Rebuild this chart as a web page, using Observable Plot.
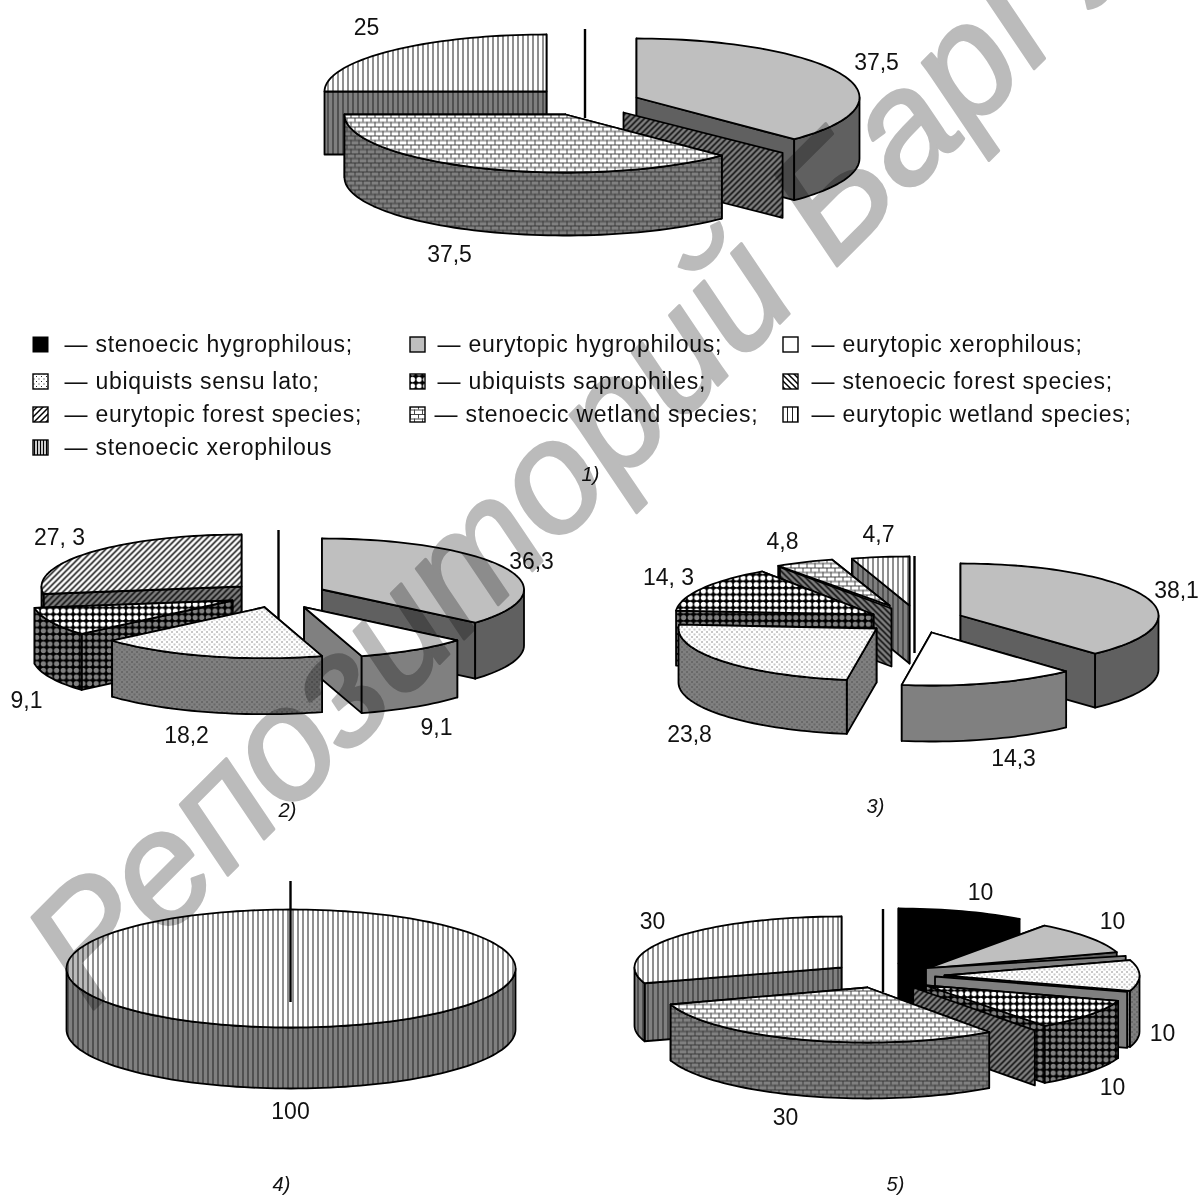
<!DOCTYPE html>
<html><head><meta charset="utf-8">
<style>html,body{margin:0;padding:0;background:#fff}svg{display:block}</style>
<script src="https://cdn.jsdelivr.net/npm/d3@7"></script>
<script src="https://cdn.jsdelivr.net/npm/@observablehq/plot@0.6"></script>
</head><body><div id="c"></div>
<script>
// ---------- data ----------
const categories = ["stenoecic hygrophilous","eurytopic hygrophilous","eurytopic xerophilous","ubiquists sensu lato","ubiquists saprophiles","stenoecic forest species","eurytopic forest species","stenoecic wetland species","eurytopic wetland species","stenoecic xerophilous"];
const pie1Values = [0,37.5,0,0,0,0,0,37.5,25,0];
const pie2Values = [0,36.3,9.1,18.2,9.1,0,27.3,0,0,0];
const pie3Values = [0,38.1,14.3,23.8,14.3,0,0,4.8,4.7,0];
const pie4Values = [0,0,0,0,0,0,0,0,100,0];
const pie5Values = [10,10,0,10,10,0,0,30,30,0];
const legendText = ["— stenoecic hygrophilous;","— eurytopic hygrophilous;","— eurytopic xerophilous;","— ubiquists sensu lato;","— ubiquists saprophiles;","— stenoecic forest species;","— eurytopic forest species;","— stenoecic wetland species;","— eurytopic wetland species;","— stenoecic xerophilous"];

// ---------- layout of each exploded slice: category index, apex, radii, depth, paint order by list position ----------
const layout1 = [
 {c:8,cx:546,cy:91,rx:222,ry:57,d:63},{c:1,cx:636,cy:97,rx:223,ry:59,d:61},
 {c:5,at:135,cx:623,cy:112,rx:225,ry:57,d:65,zero:"f6"},{c:7,cx:565,cy:114,rx:221,ry:58,d:63}];
const line1 = {x:584.5,y1:29,y2:118,after:1};
const layout2 = [
 {c:6,cx:241,cy:586,rx:200,ry:52,d:56},{c:4,cx:232,cy:600,rx:200,ry:51,d:56},
 {c:1,cx:321.5,cy:589,rx:202,ry:51,d:56},{c:2,cx:303.6,cy:606.7,rx:202,ry:51,d:57},
 {c:3,cx:264,cy:606.7,rx:202,ry:51,d:56}];
const line2 = {x:278,y1:530,y2:620,after:3};
const layout3 = [
 {c:1,cx:960,cy:615,rx:198,ry:52,d:54},{c:2,cx:931,cy:632,rx:198,ry:53,d:56},
 {c:8,cx:909,cy:605,rx:198,ry:49,d:58},{c:7,cx:889,cy:605,rx:198,ry:48,d:55},
 {c:5,at:325.7,cx:891,cy:608,rx:198,ry:50,d:58,zero:"f5"},
 {c:4,cx:873,cy:614,rx:198,ry:52,d:55},{c:3,cx:876,cy:628,rx:198,ry:52,d:54}];
const line3 = {x:914,y1:556,y2:653,after:2};
const layout4 = [{c:8,cx:290.5,cy:968,rx:224.5,ry:59,d:61}];
const line4 = {x:290,y1:881,y2:1002,after:0};
const layout5 = [
 {c:0,cx:898,cy:963,rx:206,ry:55,d:55},{c:8,cx:841,cy:967,rx:207,ry:51,d:58},
 {c:1,cx:927,cy:968,rx:199,ry:53,d:55},
 {c:2,at:72,cx:925.5,cy:967.7,rx:210,ry:40,d:55,zero:"solid"},
 {c:3,cx:944,cy:975,rx:195,ry:50,d:56},
 {c:2,at:108,cx:934.5,cy:976,rx:202,ry:50,d:56,zero:"solid"},
 {c:4,cx:925.5,cy:985,rx:202,ry:50,d:57},
 {c:6,at:144,cx:912.7,cy:987,rx:207,ry:53,d:55,zero:"f6"},
 {c:7,cx:867,cy:987,rx:207,ry:55,d:56}];
const line5 = {x:882.5,y1:909,y2:992,after:1};

const labels = [
 {t:"25",x:366,y:27},{t:"37,5",x:876,y:62},{t:"37,5",x:449,y:254},
 {t:"27, 3",x:59,y:537},{t:"36,3",x:531,y:561},{t:"9,1",x:26,y:700},{t:"18,2",x:186,y:735},{t:"9,1",x:436,y:727},
 {t:"14, 3",x:668,y:577},{t:"4,8",x:782,y:541},{t:"4,7",x:878,y:534},{t:"38,1",x:1176,y:590},{t:"23,8",x:689,y:734},{t:"14,3",x:1013,y:758},
 {t:"100",x:290,y:1111},
 {t:"10",x:980,y:892},{t:"10",x:1112,y:921},{t:"30",x:652,y:921},{t:"10",x:1162,y:1033},{t:"10",x:1112,y:1087},{t:"30",x:785,y:1117}];
const panelTitles = [{t:"1)",x:590,y:474},{t:"2)",x:287,y:810},{t:"3)",x:875,y:806},{t:"4)",x:281,y:1184},{t:"5)",x:895,y:1184}];

// ---------- fills ----------
const topFill = ["#000","#bfbfbf","#fff","url(#p3)","url(#p4)","url(#p5)","url(#p6)","url(#p7)","url(#p8)","url(#p9)"];
const wallFill = ["#000","#606060","#808080","url(#d3)","url(#d4)","url(#d5)","url(#d6)","url(#d7)","url(#d8)","url(#d9)"];
const tiles = {
 3:{w:5,h:5,s:'<rect x="1" y="1" width="1" height="1" fill="#222"/><rect x="3.5" y="3.5" width="1" height="1" fill="#222"/>'},
 4:{w:6.6,h:6.6,s:'<rect width="6.6" height="6.6" fill="#000"/><circle cx="3.3" cy="3.3" r="2.6" fill="BG"/>'},
 5:{w:6,h:6,s:'<path d="M-1 -1L7 7M-1 5L1 7M5 -1L7 1" stroke="#000" stroke-width="1.5"/>'},
 6:{w:6,h:6,s:'<path d="M-1 7L7 -1M-1 1L1 -1M5 7L7 5" stroke="#000" stroke-width="1.5"/>'},
 7:{w:8,h:9,s:'<path d="M0 .5H8M0 5H8" stroke="#333" stroke-width=".9"/><path d="M2.5 0V4.5M6.5 4.5V9" stroke="#333" stroke-width=".9"/>'},
 8:{w:5,h:5,s:'<path d="M2.5 0V5" stroke="#222" stroke-width="1"/>'},
 9:{w:3,h:3,s:'<path d="M1.5 0V3" stroke="#000" stroke-width="1.4"/>'}
};
const tile = (id,t,bg)=>`<pattern id="${id}" width="${t.w}" height="${t.h}" patternUnits="userSpaceOnUse"><rect width="${t.w}" height="${t.h}" fill="${bg}"/>${t.s.replace("BG",bg)}</pattern>`;
const defsMarkup = Object.entries(tiles).map(([k,t]) => tile("p"+k,t,"#fff")+tile("d"+k,t,"#808080")).join("");

// ---------- geometry ----------
const rad = a => a*Math.PI/180;
const pt = (s,a,dz=0) => ({x:s.cx+s.rx*Math.sin(rad(a)), y:s.cy-s.ry*Math.cos(rad(a))+dz});
const arc = (s,a0,a1,dz=0) => { const n=Math.max(2,Math.ceil(Math.abs(a1-a0)/2)); return d3.range(n+1).map(i=>pt(s,a0+(a1-a0)*i/n,dz)); };
const apex = (s,dz=0)=>({x:s.cx,y:s.cy+dz});
const closed = p => [...p,p[0]];
const SW = 1.8;
const poly = (pts,fill,sw=SW)=>Plot.line(closed(pts),{x:"x",y:"y",fill,stroke:"#000",strokeWidth:sw,curve:"linear",strokeLinejoin:"round"});

function sliceMarks(s,a0,a1){
  const c=s.c, out=[];
  const full = a1-a0>=359.9;
  if(!full){
    // the radial wall whose rim point lies further back is painted first
    const order=[a0,a1].sort((p,q)=>pt(s,p).y-pt(s,q).y);
    for(const a of order){
      out.push(poly([apex(s),pt(s,a),pt(s,a,s.d),apex(s,s.d)],wallFill[c]));
    }
  }
  const lo=Math.max(a0,90), hi=Math.min(a1,270);
  if(hi>lo){
    out.push(poly([...arc(s,lo,hi),...arc(s,lo,hi,s.d).reverse()],wallFill[c]));
  }
  out.push(poly(full ? arc(s,0,360) : [apex(s),...arc(s,a0,a1)],topFill[c]));
  return out;
}
function zeroMarks(s){
  const fill = s.zero==="solid" ? "#808080" : s.zero==="f5" ? wallFill[5] : wallFill[6];
  return [poly([apex(s),pt(s,s.at),pt(s,s.at,s.d),apex(s,s.d)],fill)];
}
function pieMarks(values,layout,line){
  const starts={}; let acc=0;
  values.forEach((v,i)=>{starts[i]=[acc/100*360,(acc+v)/100*360]; acc+=v;});
  const out=[];
  layout.forEach((s,i)=>{
    if(s.zero) out.push(...zeroMarks(s));
    else out.push(...sliceMarks(s,starts[s.c][0],starts[s.c][1]));
    if(i===line.after) out.push(Plot.ruleX([line.x],{y1:line.y1,y2:line.y2,stroke:"#000",strokeWidth:2.4}));
  });
  return out;
}

// ---------- legend ----------
const colX=[33,410,783], rowY=[344,381,414,447], textX=[64,437,811];
const legendRows = categories.map((c,i)=>({i,col:i%3,row:Math.floor(i/3),text:legendText[i]}));
const legendMarks = legendRows.flatMap(d=>{
  const x=colX[d.col], y=rowY[d.row];
  const tx = d.i===7 ? 434 : textX[d.col];
  return [
    Plot.rect([d],{x1:()=>x,x2:()=>x+15,y1:()=>y-7,y2:()=>y+8,fill:topFill[d.i],stroke:"#000",strokeWidth:d.i===0?1:1.4}),
    Plot.text([d],{x:()=>tx,y:()=>y,text:"text",textAnchor:"start",fontSize:23,fill:"#111",fontFamily:"Liberation Sans"})
  ];
});

const marks=[
  ...pieMarks(pie1Values,layout1,line1),
  ...pieMarks(pie2Values,layout2,line2),
  ...pieMarks(pie3Values,layout3,line3),
  ...pieMarks(pie4Values,layout4,line4),
  ...pieMarks(pie5Values,layout5,line5),
  ...legendMarks,
  Plot.text(labels,{x:"x",y:"y",text:"t",fontSize:23,fill:"#111",fontFamily:"Liberation Sans"}),
  Plot.text(panelTitles,{x:"x",y:"y",text:"t",fontSize:20,fontStyle:"italic",fill:"#111",fontFamily:"Liberation Sans"}),
  Plot.text(["Репозиторий БарГУ"],{x:()=>90,y:()=>1012,rotate:-45,textAnchor:"start",lineAnchor:"bottom",fontSize:158,fontStyle:"italic",fill:"#bbb",stroke:"#bbb",strokeWidth:3,mixBlendMode:"multiply",fontFamily:"Liberation Sans"})
];

const chart = Plot.plot({
  width:1199,height:1197,margin:0,
  x:{domain:[0,1199],range:[0,1199],axis:null},
  y:{domain:[0,1197],range:[0,1197],axis:null},
  style:{background:"#fff"},
  marks
});
const defs=document.createElementNS("http://www.w3.org/2000/svg","defs");
defs.innerHTML=defsMarkup;
chart.insertBefore(defs,chart.firstChild);
chart.querySelectorAll("text").forEach(t=>{ if(t.textContent.startsWith("—")) t.style.letterSpacing=".75px"; });
document.getElementById("c").appendChild(chart);
</script></body></html>
